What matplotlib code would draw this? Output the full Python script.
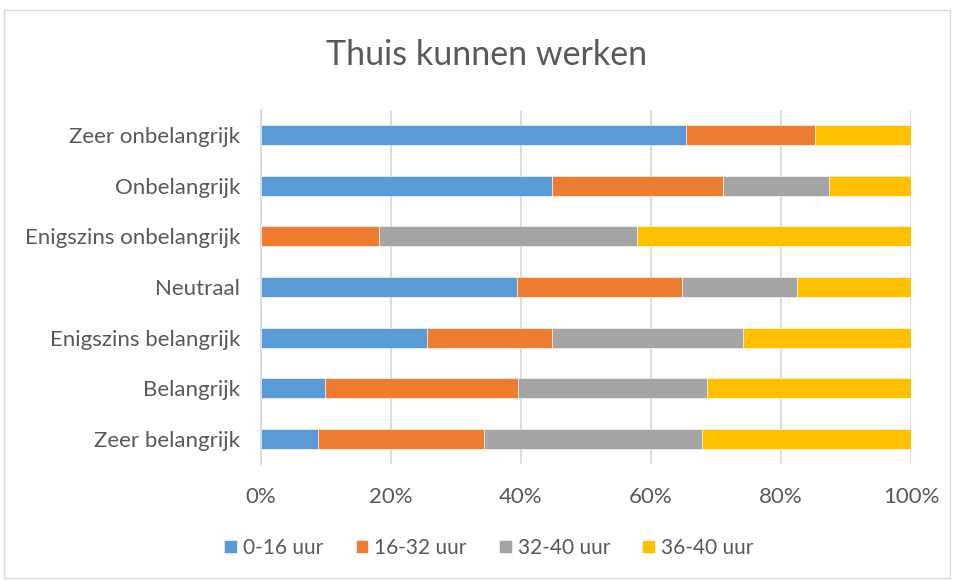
import matplotlib
matplotlib.use("Agg")
import matplotlib.pyplot as plt
from matplotlib.patches import Rectangle
import numpy as np

plt.rcParams['font.family'] = ['Lato', 'DejaVu Sans']

categories = ["Zeer onbelangrijk", "Onbelangrijk", "Enigszins onbelangrijk", "Neutraal",
              "Enigszins belangrijk", "Belangrijk", "Zeer belangrijk"]
series_names = ["0-16 uur", "16-32 uur", "32-40 uur", "36-40 uur"]
s_0_16 = [65.4, 44.8, 0.0, 39.4, 25.5, 9.9, 8.7]
s_16_32 = [19.9, 26.3, 18.2, 25.4, 19.3, 29.6, 25.6]
s_32_40 = [0.0, 16.3, 39.7, 17.7, 29.4, 29.1, 33.5]
s_36_40 = [14.7, 12.6, 42.1, 17.5, 25.8, 31.4, 32.2]
xticks = [0, 20, 40, 60, 80, 100]
xticklabels = ["0%", "20%", "40%", "60%", "80%", "100%"]

colors = ["#5B9BD5", "#ED7D31", "#A5A5A5", "#FFC000"]
txt = "#595959"

fig = plt.figure(figsize=(9.54, 5.80), dpi=100)
ax = fig.add_axes([261/954, 1-464.3/580, 650/954, 354.6/580])

y = np.arange(len(categories))[::-1]
left = np.zeros(len(categories))
for name, vals, c in zip(series_names, [s_0_16, s_16_32, s_32_40, s_36_40], colors):
    vals = np.array(vals)
    ax.barh(y, vals, left=left, height=0.4, color=c, label=name,
            edgecolor="white", linewidth=0.4, zorder=3)
    left += vals

ax.set_xlim(0, 100)
ax.set_ylim(-0.5, len(categories)-0.5)
ax.set_xticks(xticks)
ax.set_xticklabels(xticklabels)
ax.set_yticks(y)
ax.set_yticklabels(categories)
ax.tick_params(axis='both', length=0, colors=txt, labelsize=16)
ax.tick_params(axis='x', pad=16)
ax.tick_params(axis='y', pad=15)
ax.grid(axis='x', color="#D9D9D9", linewidth=1.3, zorder=0)
for s in ["top", "right", "bottom"]:
    ax.spines[s].set_visible(False)
ax.spines["left"].set_color("#D9D9D9")
ax.spines["left"].set_linewidth(1.3)

fig.text(0.51, 1-55/580, "Thuis kunnen werken", ha="center", va="center",
         fontsize=24.5, color=txt)

leg = fig.legend(loc="center", bbox_to_anchor=(489/954, 1-548/580), ncol=4, frameon=False,
                 fontsize=15, handlelength=0.6, handleheight=0.6, handletextpad=0.3,
                 columnspacing=1.55)
for t in leg.get_texts():
    t.set_color(txt)

fig.patches.append(Rectangle((4/954, 2/580), 946/954, 568/580, transform=fig.transFigure,
                             fill=False, edgecolor="#D9D9D9", linewidth=1))

fig.savefig("out.png", dpi=100)
